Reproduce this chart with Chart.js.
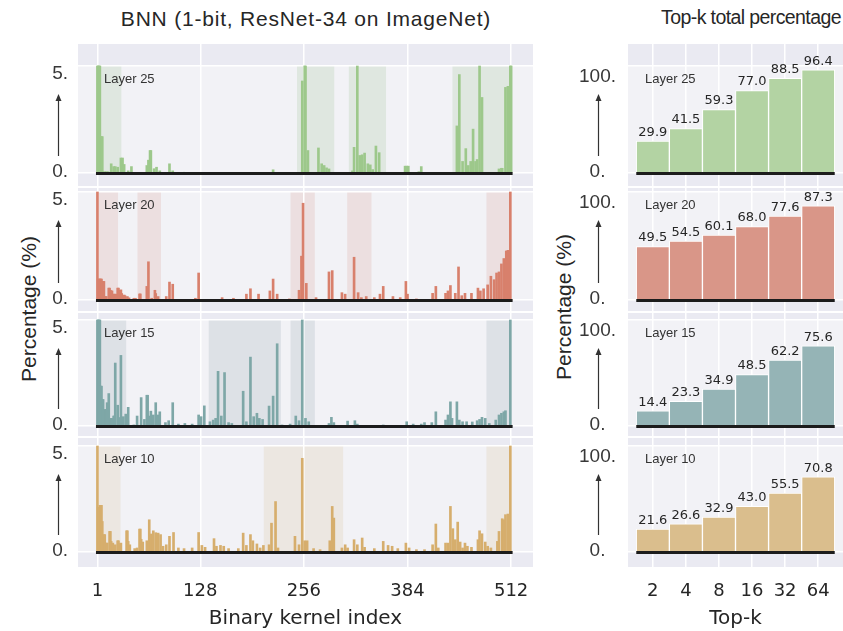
<!DOCTYPE html>
<html><head><meta charset="utf-8">
<script src="https://cdn.jsdelivr.net/npm/chart.js@4.4.1/dist/chart.umd.min.js"></script>
<style>
body{margin:0;background:#fff;width:843px;height:631px;overflow:hidden;position:relative;font-family:"Liberation Sans",Arial,sans-serif;}
canvas{position:absolute;}
.t{position:absolute;color:#262626;white-space:nowrap;font-size:21px;line-height:1;}
</style></head><body>
<div class="t" style="left:306px;top:18px;transform:translate(-50%,-50%);letter-spacing:0.8px;">BNN (1-bit, ResNet-34 on ImageNet)</div>
<div class="t" style="left:751px;top:18px;transform:translate(-50%,-50%);font-size:19.5px;letter-spacing:-0.6px;">Top-k total percentage</div>
<div class="t" style="left:28px;top:309px;transform:translate(-50%,-50%) rotate(-90deg);">Percentage (%)</div>
<div class="t" style="left:563px;top:307px;transform:translate(-50%,-50%) rotate(-90deg);">Percentage (%)</div>
<script>
// ---------------- data ----------------
const layerNames = ['Layer 25', 'Layer 20', 'Layer 15', 'Layer 10'];
const kernelTicks = [1, 128, 256, 384, 512];
const topKLabels = ['2', '4', '8', '16', '32', '64'];

const topKLayer25 = [29.9, 41.5, 59.3, 77.0, 88.5, 96.4];
const topKLayer20 = [49.5, 54.5, 60.1, 68.0, 77.6, 87.3];
const topKLayer15 = [14.4, 23.3, 34.9, 48.5, 62.2, 75.6];
const topKLayer10 = [21.6, 26.6, 32.9, 43.0, 55.5, 70.8];

// [kernel index, percentage] for the visible bars (all others ~0)
const kernelsLayer25 = [[1,5.0],[2,5.0],[3,5.0],[4,5.0],[5,1.7],[6,1.7],[7,1.7],[8,0.06],[10,0.06],[12,0.06],[14,0.06],[18,0.43],[21,0.3],[23,0.3],[26,0.27],[30,0.7],[32,0.7],[34,0.4],[39,0.1],[43,0.3],[62,0.35],[64,0.6],[66,1.05],[67,1.05],[71,0.2],[74,0.27],[78,0.1],[90,0.43],[94,0.1],[108,0.03],[218,0.15],[254,4.3],[257,5.0],[258,5.0],[261,1.05],[274,1.17],[278,0.43],[281,0.35],[284,0.24],[287,0.19],[316,0.1],[318,1.2],[322,5.0],[325,0.82],[328,0.85],[331,0.93],[335,0.43],[338,0.38],[341,0.16],[345,1.26],[349,0.95],[381,0.32],[383,0.32],[385,0.32],[398,0.06],[401,0.3],[445,2.2],[448,4.6],[452,0.54],[456,1.14],[459,0.35],[462,0.54],[465,2.05],[468,0.54],[470,0.63],[473,5.0],[476,3.53],[497,0.19],[500,0.22],[501,0.22],[505,4.0],[508,4.05],[511,5.0],[512,5.0]];
const kernelsLayer20 = [[1,5.0],[2,0.97],[3,0.97],[4,0.97],[5,0.97],[6,0.97],[7,0.86],[8,0.86],[9,0.86],[10,0.16],[11,0.16],[12,0.16],[15,0.55],[16,0.55],[17,0.45],[18,0.42],[19,0.42],[21,0.27],[22,0.27],[24,0.27],[26,0.55],[27,0.55],[28,0.45],[30,0.47],[31,0.3],[34,0.23],[35,0.2],[38,0.16],[40,0.1],[46,0.08],[48,0.08],[53,0.28],[54,0.28],[62,0.63],[64,1.77],[68,0.08],[72,0.45],[73,0.3],[76,0.16],[86,0.16],[90,0.83],[94,0.73],[122,0.08],[126,1.25],[155,0.11],[169,0.08],[185,0.27],[190,0.52],[200,0.27],[214,0.42],[218,0.97],[223,0.27],[238,0.05],[250,0.45],[253,2.03],[255,4.48],[259,0.77],[271,0.11],[287,1.3],[291,1.36],[303,0.34],[307,0.27],[318,1.98],[323,0.34],[327,0.11],[333,0.16],[343,0.11],[350,0.27],[354,0.63],[366,0.16],[375,0.11],[382,0.86],[384,0.27],[395,0.05],[415,0.31],[419,0.63],[431,0.31],[434,0.42],[437,0.67],[443,0.31],[447,1.53],[451,0.2],[455,0.31],[463,0.31],[471,0.55],[474,0.42],[478,0.52],[483,0.7],[487,1.1],[491,0.94],[494,1.25],[497,1.3],[500,1.67],[503,1.92],[506,2.27],[508,2.3],[511,5.0]];
const kernelsLayer15 = [[1,5.0],[2,5.0],[3,5.0],[4,5.0],[5,1.88],[6,1.88],[7,1.25],[8,1.25],[10,0.78],[11,0.78],[13,1.1],[15,1.53],[17,0.36],[19,0.36],[21,0.47],[22,0.47],[23,2.97],[26,0.98],[28,0.4],[30,3.33],[33,0.44],[36,0.56],[39,0.88],[46,0.05],[50,0.47],[55,1.34],[59,0.31],[62,1.45],[63,1.45],[65,0.47],[67,0.7],[70,0.52],[73,1.1],[76,0.52],[78,0.67],[85,0.16],[89,0.25],[94,1.1],[101,0.09],[109,0.12],[118,0.09],[126,0.52],[129,0.44],[133,0.95],[140,0.2],[144,0.28],[147,0.36],[150,2.58],[154,0.47],[158,2.52],[163,0.16],[167,0.12],[181,1.64],[185,0.2],[190,3.25],[194,0.44],[198,0.6],[201,0.36],[205,0.31],[213,0.94],[218,1.41],[223,3.88],[229,0.05],[239,0.09],[246,0.47],[250,0.25],[254,5.0],[258,0.36],[262,0.2],[287,0.12],[290,0.41],[293,0.16],[310,0.23],[319,0.25],[322,0.09],[354,0.05],[383,0.2],[391,0.09],[401,0.09],[405,0.16],[414,0.16],[419,0.67],[431,0.28],[434,0.52],[437,1.14],[439,0.36],[445,1.14],[448,0.28],[452,0.2],[457,0.2],[464,0.19],[470,0.25],[473,0.31],[476,0.41],[480,0.36],[485,0.12],[493,0.28],[497,0.52],[500,0.6],[503,0.67],[505,0.72],[511,5.0]];
const kernelsLayer10 = [[1,5.0],[2,2.1],[3,2.1],[4,2.2],[5,2.2],[6,2.2],[7,1.44],[9,0.82],[10,0.82],[12,0.42],[13,0.42],[16,0.97],[17,0.97],[18,0.5],[20,0.42],[23,0.34],[26,0.53],[27,0.53],[28,0.4],[30,0.42],[37,1.0],[38,1.0],[39,0.5],[41,0.34],[47,0.16],[50,0.19],[53,1.08],[54,1.08],[55,0.6],[57,0.47],[62,0.53],[65,1.52],[67,0.85],[70,1.0],[73,0.91],[76,0.89],[79,0.82],[82,0.27],[86,0.34],[90,0.74],[95,0.92],[101,0.19],[108,0.16],[118,0.19],[126,0.92],[130,0.31],[134,0.22],[145,0.63],[148,0.27],[153,0.31],[157,0.27],[163,0.16],[175,0.16],[181,0.89],[185,0.31],[190,0.82],[193,0.53],[198,0.38],[202,0.19],[206,0.31],[213,0.34],[216,1.36],[221,2.38],[224,0.19],[245,0.74],[250,0.34],[254,4.42],[257,0.53],[260,0.53],[268,0.16],[276,0.11],[288,0.53],[291,2.15],[293,1.6],[303,0.19],[307,0.34],[310,0.19],[318,0.58],[322,0.34],[328,0.66],[331,0.22],[343,0.16],[354,0.5],[360,0.31],[365,0.27],[372,0.16],[382,0.42],[386,0.19],[395,0.11],[405,0.11],[415,0.34],[419,1.32],[422,0.19],[431,0.42],[434,0.42],[437,2.15],[440,1.1],[443,0.58],[446,1.41],[449,0.47],[452,0.19],[455,0.42],[458,0.27],[463,0.22],[471,0.58],[473,1.0],[476,0.86],[480,0.47],[483,0.27],[487,0.19],[495,0.5],[497,0.97],[501,1.57],[503,1.52],[505,1.76],[508,1.79],[511,5.0]];

// highlighted kernel index ranges [from, to]
const spansLayer25 = [[1,30],[248,293],[312,357],[440,512]];
const spansLayer20 = [[1,26],[51,79],[240,269],[310,339],[482,512]];
const spansLayer15 = [[1,36],[139,227],[240,269],[482,512]];
const spansLayer10 = [[1,29],[207,304],[482,512]];

// ---------------- styles / layout ----------------
const kernelSets = [kernelsLayer25, kernelsLayer20, kernelsLayer15, kernelsLayer10];
const topKSets = [topKLayer25, topKLayer20, topKLayer15, topKLayer10];
const spanSets = [spansLayer25, spansLayer20, spansLayer15, spansLayer10];
const leftColors = ['#9DC88B', '#D8806C', '#7EA7A7', '#D6AE6D'];
const rightColors = ['#B3D3A3', '#D99688', '#95B4B6', '#DABE8D'];
const spanColors = ['rgba(150,190,140,0.20)', 'rgba(215,150,140,0.20)', 'rgba(160,175,185,0.25)', 'rgba(215,190,150,0.22)'];
const rows = [
  {top: 44, bottom: 186, zeroPx: 173, topPx: 66},
  {top: 188, bottom: 311, zeroPx: 300, topPx: 192},
  {top: 313, bottom: 436, zeroPx: 426, topPx: 320},
  {top: 438, bottom: 567, zeroPx: 552, topPx: 446}
];
const FIG_H = 631;
const tickColor = '#383838';

const panelPlugin = {
  id: 'panel',
  beforeDraw(chart, args, o) {
    const {ctx, chartArea: a, scales: {x, y}} = chart;
    ctx.save();
    ctx.fillStyle = '#EAEAF2';
    ctx.fillRect(a.left, a.top, a.width, a.height);
    const y0 = y.getPixelForValue(0), yT = y.getPixelForValue(o.topVal);
    ctx.fillStyle = '#F2F2F6';
    ctx.fillRect(a.left, yT, a.width, y0 - yT);
    if (o.spans) {
      ctx.fillStyle = o.spanColor;
      o.spans.forEach(([s, e]) => {
        const xs = x.getPixelForValue(s - 0.5), xe = x.getPixelForValue(e + 0.5);
        ctx.fillRect(xs, yT, xe - xs, y0 - yT);
      });
    }
    ctx.restore();
  },
  afterDatasetsDraw(chart, args, o) {
    const {ctx, chartArea: a, scales: {x, y}} = chart;
    const y0 = y.getPixelForValue(0), yT = y.getPixelForValue(o.topVal);
    ctx.save();
    ctx.strokeStyle = '#1c1c1c';
    ctx.lineWidth = 3;
    ctx.beginPath();
    ctx.moveTo(x.getPixelForValue(o.baseFrom), y0 + 0.5);
    ctx.lineTo(x.getPixelForValue(o.baseTo), y0 + 0.5);
    ctx.stroke();
    ctx.fillStyle = '#333';
    ctx.font = '13px "Liberation Sans", Arial, sans-serif';
    ctx.textBaseline = 'middle';
    ctx.textAlign = 'left';
    ctx.fillText(o.name, a.left + o.nameDx, yT + 13);
    if (o.values) {
      ctx.font = '13px "DejaVu Sans", sans-serif';
      ctx.fillStyle = '#262626';
      ctx.textAlign = 'center';
      ctx.textBaseline = 'bottom';
      chart.getDatasetMeta(0).data.forEach((bar, i) => {
        ctx.fillText(o.values[i].toFixed(1), bar.x, bar.y - 2);
      });
    }
    ctx.restore();
  },
  afterDraw(chart, args, o) {
    const {ctx, chartArea: a, scales: {y}} = chart;
    const y0 = y.getPixelForValue(0), yT = y.getPixelForValue(o.topVal);
    const ax = Math.round(a.left - o.arrowDx) + 0.5;
    const yb = y0 - 17, yt = yT + 28;
    ctx.save();
    ctx.strokeStyle = '#333';
    ctx.fillStyle = '#333';
    ctx.lineWidth = 1.2;
    ctx.beginPath();
    ctx.moveTo(ax, yb);
    ctx.lineTo(ax, yt + 5);
    ctx.stroke();
    ctx.beginPath();
    ctx.moveTo(ax, yt);
    ctx.lineTo(ax - 3, yt + 7);
    ctx.lineTo(ax + 3, yt + 7);
    ctx.closePath();
    ctx.fill();
    ctx.restore();
  }
};

function makeCanvas(left, top, w, h) {
  const c = document.createElement('canvas');
  c.width = w; c.height = h;
  c.style.left = left + 'px'; c.style.top = top + 'px';
  document.body.appendChild(c);
  return c;
}

function yRange(r, topVal) {
  const unit = (r.zeroPx - r.topPx) / topVal;
  return {min: -(r.bottom - r.zeroPx) / unit, max: topVal + (r.topPx - r.top) / unit};
}

function fullSeries(pairs) {
  const a = new Array(512).fill(0);
  pairs.forEach(([i, v]) => { a[i - 1] = v; });
  return a;
}

// y tick labels: top label sits a little below its grid line, zero label a little above
function yTickOpts(topVal, padding, topShift) {
  return {
    color: tickColor, padding: padding, crossAlign: 'center',
    font: c => ({family: 'Liberation Sans', size: 19,
      lineHeight: (c.tick && c.tick.value === topVal) ? (2 * topShift) + 'px' : '2px'}),
    callback: v => v === topVal ? ['', v + '.'] : [v + '.', '']
  };
}

rows.forEach((r, i) => {
  const isBottom = i === rows.length - 1;
  const h = (isBottom ? FIG_H : r.bottom) - r.top;

  // ---------- left: per-kernel percentage ----------
  const series = fullSeries(kernelSets[i]);
  const yl = yRange(r, 5);
  new Chart(makeCanvas(0, r.top, 540, h), {
    type: 'bar',
    data: {datasets: [{
      data: series.map((v, k) => ({x: k + 1, y: v})),
      backgroundColor: leftColors[i], borderWidth: 0, barThickness: 2
    }]},
    options: {
      responsive: false, animation: false, events: [],
      layout: {padding: {left: 0, right: 7, top: 0, bottom: 0}, autoPadding: false},
      plugins: {legend: {display: false}, tooltip: {enabled: false},
        panel: {topVal: 5, spans: spanSets[i], spanColor: spanColors[i], name: layerNames[i], nameDx: 26,
                baseFrom: -0.8, baseTo: 513.8, arrowDx: 20}},
      scales: {
        x: {type: 'linear', min: -23, max: 539, offset: false,
          afterBuildTicks: s => { s.ticks = kernelTicks.map(v => ({value: v})); },
          afterFit: s => { s.height = isBottom ? FIG_H - r.bottom : 0; s.paddingLeft = 0; s.paddingRight = 0; },
          grid: {color: '#ffffff', lineWidth: 1.5, drawTicks: false, offset: false},
          border: {display: false},
          ticks: {display: isBottom, autoSkip: false, maxRotation: 0, padding: 14, color: '#262626',
            font: {family: 'DejaVu Sans', size: 18}, callback: v => String(v)},
          title: {display: isBottom, text: 'Binary kernel index', color: '#262626',
            font: {family: 'DejaVu Sans', size: 20}, padding: {top: 0, bottom: 0}}
        },
        y: {min: yl.min, max: yl.max,
          afterBuildTicks: s => { s.ticks = [{value: 0}, {value: 5}]; },
          afterFit: s => { s.width = 78; s.paddingTop = 0; s.paddingBottom = 0; },
          grid: {color: '#ffffff', lineWidth: 1.5, drawTicks: false},
          border: {display: false},
          ticks: yTickOpts(5, 10, 8)
        }
      }
    },
    plugins: [panelPlugin]
  });

  // ---------- right: top-k total percentage ----------
  const vals = topKSets[i];
  const yr = yRange(r, 100);
  new Chart(makeCanvas(540, r.top, 303, h), {
    type: 'bar',
    data: {datasets: [{
      data: vals.map((v, k) => ({x: k, y: v})),
      backgroundColor: rightColors[i], borderColor: '#ffffff', borderWidth: 1,
      barPercentage: 1, categoryPercentage: 1
    }]},
    options: {
      responsive: false, animation: false, events: [],
      layout: {padding: 0, autoPadding: false},
      plugins: {legend: {display: false}, tooltip: {enabled: false},
        panel: {topVal: 100, name: layerNames[i], nameDx: 17, values: vals,
                baseFrom: -0.5, baseTo: 5.5, arrowDx: 30}},
      scales: {
        x: {type: 'linear', min: -0.75, max: 5.75, offset: false,
          afterBuildTicks: s => { s.ticks = topKLabels.map((_, k) => ({value: k})); },
          afterFit: s => { s.height = isBottom ? FIG_H - r.bottom : 0; s.paddingLeft = 0; s.paddingRight = 0; },
          grid: {color: '#ffffff', lineWidth: 1.5, drawTicks: false, offset: false},
          border: {display: false},
          ticks: {display: isBottom, autoSkip: false, maxRotation: 0, padding: 14, color: '#262626',
            font: {family: 'DejaVu Sans', size: 18}, callback: v => topKLabels[v]},
          title: {display: isBottom, text: 'Top-k', color: '#262626',
            font: {family: 'DejaVu Sans', size: 20}, padding: {top: 0, bottom: 0}}
        },
        y: {min: yr.min, max: yr.max,
          afterBuildTicks: s => { s.ticks = [{value: 0}, {value: 100}]; },
          afterFit: s => { s.width = 88; s.paddingTop = 0; s.paddingBottom = 0; },
          grid: {color: '#ffffff', lineWidth: 1.5, drawTicks: false},
          border: {display: false},
          ticks: yTickOpts(100, 12, 11)
        }
      }
    },
    plugins: [panelPlugin]
  });
});
</script>
</body></html>
